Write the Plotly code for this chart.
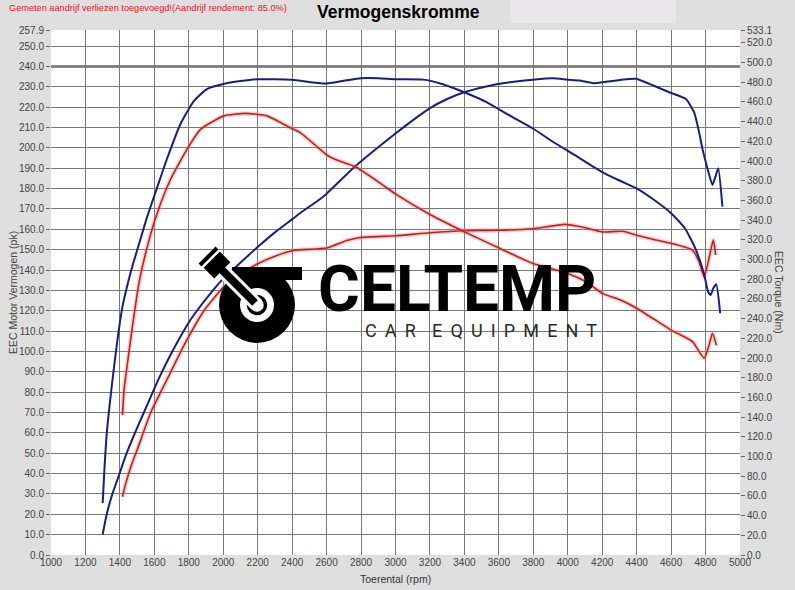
import plotly.graph_objects as go

# Data (rpm / pk / Nm)
# blue = after tuning, red = stock
blue_pk_rpm = [1300, 1320, 1357, 1396, 1424, 1453, 1500, 1560, 1625, 1695, 1791, 1830, 1945, 2003, 2060,
               2216, 2300, 2403, 2447, 2563, 2600, 2765, 2987, 3100, 3200, 3300, 3399, 3567, 3700, 3798,
               3914, 4001, 4068, 4155, 4261, 4358, 4397, 4500, 4589, 4686, 4734, 4763, 4782, 4811, 4840,
               4858, 4874, 4898]
blue_pk = [10.0, 18.7, 30.2, 39.5, 46.5, 53.0, 62.5, 74.0, 86.5, 98.5, 113.0, 118.0, 130.5, 136.0, 140.5,
           152.5, 158.5, 165.1, 168.0, 174.9, 177.5, 190.8, 206.2, 213.5, 219.5, 224.0, 227.3, 230.9, 232.6, 233.5,
           234.2, 233.5, 233.1, 231.7, 232.9, 233.8, 233.9, 230.5, 227.3, 224.0, 217.4, 207.5, 199.5, 190.0, 181.8,
           186.0, 190.0, 171.1]

blue_nm_rpm = [1300, 1310, 1324, 1357, 1386, 1415, 1467, 1502, 1560, 1618, 1675, 1753, 1830, 1907, 2000,
               2100, 2200, 2400, 2590, 2700, 2800, 2900, 3000, 3163, 3270, 3399, 3528, 3654, 3798, 3914,
               4039, 4194, 4300, 4397, 4500, 4600, 4680, 4740, 4790, 4815, 4830, 4845, 4862, 4885]
blue_nm = [52.7, 86.8, 124.0, 177.8, 218.7, 252.2, 290.0, 310.5, 344.4, 374.1, 403.1, 438.2, 461.2, 473.4, 478.3,
           481.2, 483.1, 482.5, 478.7, 481.6, 484.1, 484.1, 483.1, 482.7, 478.3, 469.9, 459.9, 447.1, 433.1, 419.6,
           406.2, 389.4, 380.3, 372.5, 360.7, 347.1, 331.8, 311.5, 286.1, 267.3, 264.0, 270.8, 274.9, 245.4]

red_pk_rpm = [1415, 1434, 1470, 1502, 1521, 1579, 1675, 1772, 1888, 2003, 2100, 2200, 2300, 2408, 2602,
              2717, 2795, 3000, 3200, 3399, 3601, 3798, 3983, 4089, 4203, 4318, 4405, 4500, 4600, 4724,
              4763, 4792, 4820, 4845, 4859]
red_pk = [28.6, 35.2, 45.0, 52.0, 56.6, 70.0, 86.5, 103.0, 120.0, 131.7, 138.0, 143.1, 146.8, 149.6, 150.8,
          154.5, 156.0, 156.8, 158.3, 159.3, 159.5, 160.3, 162.4, 161.0, 158.7, 159.0, 157.0, 155.0, 153.1, 149.8,
          144.0, 136.7, 145.7, 154.7, 147.4]

red_nm_rpm = [1415, 1424, 1444, 1473, 1511, 1560, 1618, 1695, 1791, 1868, 2003, 2129, 2254, 2389, 2447,
              2563, 2601, 2659, 2765, 2910, 3006, 3200, 3399, 3601, 3798, 4001, 4107, 4203, 4300, 4405,
              4600, 4724, 4792, 4820, 4840, 4863]
red_nm = [142.2, 167.4, 194.9, 232.3, 276.6, 313.8, 347.9, 381.8, 412.4, 432.2, 445.9, 448.4, 445.9, 433.9, 428.9,
          411.8, 406.2, 401.0, 394.4, 377.7, 365.9, 345.8, 328.3, 311.7, 296.0, 285.9, 277.4, 265.4, 259.4, 250.1,
          228.4, 216.6, 199.7, 212.9, 225.1, 212.9]

x_ticks = list(range(1000, 5001, 200))
pk_ticks = list(range(0, 251, 10))
nm_ticks = list(range(0, 521, 20)) + [533.1]
pk_max = 257.9
nm_max = 533.1

BLUE = '#1b1d7e'
RED = '#bd2222'
GLOW = 'rgba(235,120,120,0.35)'
SMOOTH = 0.5

fig = go.Figure()

# red curves get a soft pink halo like the scanned sheet
for xs, ys, ax in [(red_pk_rpm, red_pk, 'y'), (red_nm_rpm, red_nm, 'y2')]:
    fig.add_trace(go.Scatter(x=xs, y=ys, yaxis=ax, mode='lines', hoverinfo='skip',
                             line=dict(color=GLOW, width=4.5, shape='spline', smoothing=SMOOTH)))
fig.add_trace(go.Scatter(x=red_pk_rpm, y=red_pk, mode='lines', name='Vermogen origineel',
                         line=dict(color=RED, width=1.6, shape='spline', smoothing=SMOOTH)))
fig.add_trace(go.Scatter(x=red_nm_rpm, y=red_nm, yaxis='y2', mode='lines', name='Koppel origineel',
                         line=dict(color=RED, width=1.6, shape='spline', smoothing=SMOOTH)))
fig.add_trace(go.Scatter(x=blue_pk_rpm, y=blue_pk, mode='lines', name='Vermogen',
                         line=dict(color=BLUE, width=2, shape='spline', smoothing=SMOOTH)))
fig.add_trace(go.Scatter(x=blue_nm_rpm, y=blue_nm, yaxis='y2', mode='lines', name='Koppel',
                         line=dict(color=BLUE, width=2, shape='spline', smoothing=SMOOTH)))
# invisible helper so the extra "257.9" axis gets drawn
fig.add_trace(go.Scatter(x=[1000], y=[0], yaxis='y3', mode='markers', marker=dict(opacity=0), hoverinfo='skip'))

tickfont = dict(family='Liberation Sans', size=10, color='#444')

fig.update_layout(
    width=795, height=590,
    margin=dict(l=51, r=55, t=30, b=35),
    paper_bgcolor='#dfdfdf',
    plot_bgcolor='white',
    showlegend=False,
    xaxis=dict(range=[1000, 5000], tickvals=x_ticks, ticktext=[str(v) for v in x_ticks],
               showgrid=True, gridcolor='#787878', gridwidth=1, zeroline=False,
               ticks='', tickfont=tickfont, showline=False),
    yaxis=dict(range=[0, pk_max], tickvals=pk_ticks, ticktext=['%.1f' % v for v in pk_ticks],
               showgrid=True, gridcolor='#787878', gridwidth=1, zeroline=False,
               ticks='outside', ticklen=4, tickcolor='#666', tickfont=tickfont, showline=False),
    yaxis2=dict(range=[0, nm_max], overlaying='y', side='right', tickvals=nm_ticks,
                ticktext=['%.1f' % v for v in nm_ticks], showgrid=False, zeroline=False,
                ticks='outside', ticklen=4, tickcolor='#666', tickfont=tickfont, showline=False),
    yaxis3=dict(range=[0, pk_max], overlaying='y', side='left', tickvals=[pk_max], ticktext=['257.9'],
                showgrid=False, zeroline=False, ticks='outside', ticklen=4, tickcolor='#666',
                tickfont=tickfont, showline=False),
)

# darker reference line at 240 pk
fig.add_shape(type='line', xref='paper', x0=0, x1=1, yref='y', y0=240, y1=240,
              line=dict(color='#6a6a6a', width=2.5), layer='below')

# lighter band at the top of the sheet
fig.add_shape(type='rect', xref='paper', yref='paper', x0=(510 - 51) / 689, x1=(676 - 51) / 689,
              y0=(555 - 23) / 525, y1=(555 - 0) / 525, fillcolor='#e9e7e9', line=dict(width=0), layer='below')


# pixel positions -> paper coordinates
def px(x, y):
    return (x - 51) / 689, (555 - y) / 525


def label(text, x, y, size, color, angle=0, anchor='center', **font):
    ax, ay = px(x, y)
    fig.add_annotation(text=text, xref='paper', yref='paper', x=ax, y=ay, xanchor=anchor, yanchor='middle',
                       textangle=angle, showarrow=False,
                       font=dict(family=font.pop('family', 'Liberation Sans'), size=size, color=color, **font))


label('Vermogenskromme', 398, 12, 17.5, 'black', weight='bold')
label('Gemeten aandrijf verliezen toegevoegd!(Aandrijf rendement: 85.0%)', 7, 8, 9.2, '#d42020', anchor='left')
label('EEC Motor Vermogen (pk)', 13, 293, 10.5, '#444', angle=-90)
label('EEC Torque (Nm)', 779, 292, 10.5, '#444', angle=90)
label('Toerental (rpm)', 395, 579, 10.5, '#333')


# CELTEMP watermark
def circle(cx, cy, r, **kw):
    x0, y0 = px(cx - r, cy + r)
    x1, y1 = px(cx + r, cy - r)
    fig.add_shape(type='circle', xref='paper', yref='paper', x0=x0, y0=y0, x1=x1, y1=y1, layer='above', **kw)


def seg(xa, ya, xb, yb, color, width):
    x0, y0 = px(xa, ya)
    x1, y1 = px(xb, yb)
    fig.add_shape(type='line', xref='paper', yref='paper', x0=x0, y0=y0, x1=x1, y1=y1,
                  line=dict(color=color, width=width), layer='above')


def rect_rot(cx, cy, hu, hv, fill):
    u = (-0.7071, -0.7071)
    v = (0.7071, -0.7071)
    pts = []
    for a, b in [(hu, hv), (hu, -hv), (-hu, -hv), (-hu, hv)]:
        pts.append(px(cx + a * u[0] + b * v[0], cy + a * u[1] + b * v[1]))
    path = 'M ' + ' L '.join('%f,%f' % p for p in pts) + ' Z'
    fig.add_shape(type='path', xref='paper', yref='paper', path=path, fillcolor=fill,
                  line=dict(width=0), layer='above')


circle(257, 305, 38, fillcolor='black', line=dict(width=0))
x0, y0 = px(232, 280)
x1, y1 = px(302, 267)
fig.add_shape(type='rect', xref='paper', yref='paper', x0=x0, y0=y0, x1=x1, y1=y1,
              fillcolor='black', line=dict(width=0), layer='above')
circle(257, 305, 17, fillcolor='white', line=dict(width=0))
circle(257, 305, 8.5, fillcolor='rgba(0,0,0,0)', line=dict(color='black', width=3.5))
seg(214, 262, 257, 305, 'white', 14)
seg(220, 268, 255, 303, 'black', 8)
rect_rot(216, 264, 8, 12, 'white')
rect_rot(217, 265, 7.5, 11.5, 'black')
rect_rot(208.5, 256.5, 2, 12, 'black')

label('CELTEMP', 457, 289, 64, 'black', family='Roboto', weight='bold')
label('C\u2009 A\u2009 R\u2009 \u2009 E\u2009 Q\u2009 U\u2009 I\u2009 P\u2009 M\u2009 E\u2009 N\u2009 T', 481, 330, 18,
      '#2a2a2a', family='Roboto', weight=400)

fig.write_html('out.html', config={'displayModeBar': False},
               post_script="document.body.style.margin='0px';")
